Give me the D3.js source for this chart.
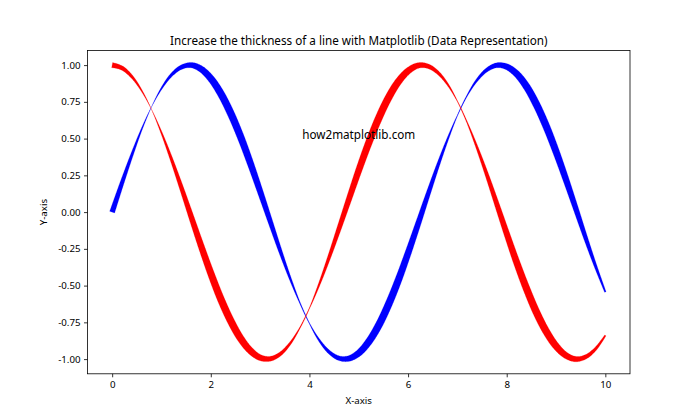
<!DOCTYPE html>
<html>
<head>
<meta charset="utf-8">
<script src="https://cdn.jsdelivr.net/npm/d3@7"></script>
<style>
  body { margin: 0; background: #fff; }
  text { font-family: "Noto Sans", "Open Sans", sans-serif; fill: #000; }
</style>
</head>
<body>
<div id="chart"></div>
<script>
const xValues = [0, 0.2, 0.4, 0.6, 0.8, 1.0, 1.2, 1.4, 1.6, 1.8, 2.0, 2.2, 2.4, 2.6, 2.8, 3.0,
  3.2, 3.4, 3.6, 3.8, 4.0, 4.2, 4.4, 4.6, 4.8, 5.0, 5.2, 5.4, 5.6, 5.8, 6.0,
  6.2, 6.4, 6.6, 6.8, 7.0, 7.2, 7.4, 7.6, 7.8, 8.0, 8.2, 8.4, 8.6, 8.8, 9.0,
  9.2, 9.4, 9.6, 9.8, 10.0];
const blueValues = [0.000, 0.199, 0.389, 0.565, 0.717, 0.841, 0.932, 0.985, 1.000, 0.974, 0.909,
  0.808, 0.675, 0.516, 0.335, 0.141, -0.058, -0.256, -0.443, -0.612, -0.757,
  -0.872, -0.952, -0.994, -0.996, -0.959, -0.883, -0.773, -0.631, -0.465, -0.279,
  -0.083, 0.117, 0.312, 0.494, 0.657, 0.794, 0.899, 0.968, 0.999, 0.989,
  0.941, 0.855, 0.734, 0.585, 0.412, 0.223, 0.025, -0.175, -0.366, -0.544];
const redValues = [1.000, 0.980, 0.921, 0.825, 0.697, 0.540, 0.362, 0.170, -0.029, -0.227, -0.416,
  -0.589, -0.737, -0.857, -0.942, -0.990, -0.998, -0.967, -0.897, -0.791, -0.654,
  -0.490, -0.307, -0.112, 0.087, 0.284, 0.469, 0.635, 0.776, 0.886, 0.960,
  0.997, 0.993, 0.950, 0.870, 0.754, 0.608, 0.438, 0.252, 0.054, -0.146,
  -0.340, -0.519, -0.679, -0.811, -0.911, -0.975, -1.000, -0.985, -0.931, -0.839];
const xTicks = [0, 2, 4, 6, 8, 10];
const yTicks = [-1.00, -0.75, -0.50, -0.25, 0.00, 0.25, 0.50, 0.75, 1.00];

const w = 700, h = 420;
const margin = {left: 87.5, right: 70, top: 50.4, bottom: 46.2};
const widthScale = 5.2; // px of line per unit of |blue - red|

const svg = d3.select("#chart").append("svg")
  .attr("width", w).attr("height", h);

const x = d3.scaleLinear().domain([-0.5, 10.5]).range([margin.left, w - margin.right]);
const y = d3.scaleLinear().domain([-1.1, 1.1]).range([h - margin.bottom, margin.top]);

const diffAt = d3.scaleLinear().domain(xValues)
  .range(xValues.map((d, i) => Math.abs(blueValues[i] - redValues[i])));

// draw a line whose thickness follows the gap between the two series
function ribbon(values, color) {
  const pts = xValues.map((d, i) => [x(d), y(values[i])]);
  const tmp = svg.append("path")
    .attr("d", d3.line().curve(d3.curveCatmullRom)(pts))
    .attr("fill", "none");
  const node = tmp.node();
  const len = node.getTotalLength();
  const samples = [];
  for (let s = 0; s <= len; s += 0.75) {
    const p = node.getPointAtLength(s);
    samples.push([p.x, p.y]);
  }
  const last = node.getPointAtLength(len);
  samples.push([last.x, last.y]);
  tmp.remove();

  const left = [], right = [];
  samples.forEach((p, i) => {
    const a = samples[Math.max(0, i - 1)];
    const b = samples[Math.min(samples.length - 1, i + 1)];
    let dx = b[0] - a[0], dy = b[1] - a[1];
    const l = Math.hypot(dx, dy) || 1;
    const nx = -dy / l, ny = dx / l;
    const half = widthScale * diffAt(x.invert(p[0])) / 2;
    left.push([p[0] + nx * half, p[1] + ny * half]);
    right.push([p[0] - nx * half, p[1] - ny * half]);
  });
  const poly = left.concat(right.reverse());
  svg.append("path")
    .attr("d", "M" + poly.map(p => p[0].toFixed(2) + "," + p[1].toFixed(2)).join("L") + "Z")
    .attr("fill", color)
    .attr("stroke", color)
    .attr("stroke-width", 0.2);
}

ribbon(blueValues, "#0000ff");
ribbon(redValues, "#ff0000");

// axes
const xAxis = d3.axisBottom(x).tickValues(xTicks).tickSize(3.5).tickPadding(3.5).tickFormat(d3.format("d"));
const yAxis = d3.axisLeft(y).tickValues(yTicks).tickSize(3.5).tickPadding(3.5)
  .tickFormat(d => d3.format(".2f")(d).replace("−", "-"));

const gx = svg.append("g").attr("transform", `translate(0,${h - margin.bottom})`).call(xAxis);
const gy = svg.append("g").attr("transform", `translate(${margin.left},0)`).call(yAxis);
[gx, gy].forEach(g => {
  g.select(".domain").remove();
  g.selectAll(".tick line").attr("stroke", "#000").attr("stroke-width", 0.8);
  g.selectAll(".tick text").style("font-size", "9.7px").attr("fill", "#000");
});

svg.append("rect")
  .attr("x", margin.left).attr("y", margin.top)
  .attr("width", w - margin.right - margin.left)
  .attr("height", h - margin.bottom - margin.top)
  .attr("fill", "none").attr("stroke", "#000").attr("stroke-width", 0.8);

// texts
const cx = (margin.left + w - margin.right) / 2;
svg.append("text").attr("x", cx).attr("y", 44.5).attr("text-anchor", "middle")
  .style("font-size", "11.7px").text("Increase the thickness of a line with Matplotlib (Data Representation)");
svg.append("text").attr("x", cx).attr("y", 404).attr("text-anchor", "middle")
  .style("font-size", "9.7px").text("X-axis");
svg.append("text").attr("transform", `translate(47,${(margin.top + h - margin.bottom) / 2}) rotate(-90)`)
  .attr("text-anchor", "middle").style("font-size", "9.7px").text("Y-axis");
svg.append("text").attr("x", x(5)).attr("y", y(0.5)).attr("text-anchor", "middle")
  .style("font-size", "11.7px").text("how2matplotlib.com");
</script>
</body>
</html>
